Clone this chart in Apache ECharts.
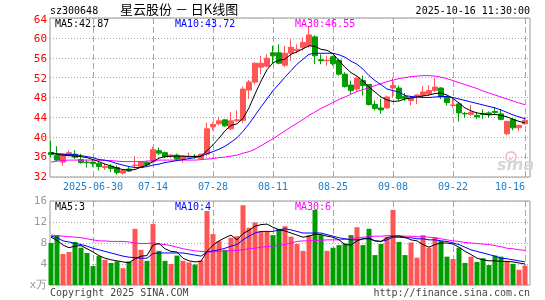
<!DOCTYPE html>
<html>
<head>
<meta charset="utf-8">
<script src="https://cdn.jsdelivr.net/npm/echarts@6/dist/echarts.min.js"></script>
<style>
html,body{margin:0;padding:0;background:#fff;}
#chart{width:545px;height:300px;}
</style>
</head>
<body>
<div id="chart"></div>
<script>
// trading days shown
var dates = [
	'2025-06-19','2025-06-20','2025-06-23','2025-06-24','2025-06-25','2025-06-26','2025-06-27','2025-06-30',
	'2025-07-01','2025-07-02','2025-07-03','2025-07-04','2025-07-07','2025-07-08','2025-07-09','2025-07-10','2025-07-11',
	'2025-07-14','2025-07-15','2025-07-16','2025-07-17','2025-07-18','2025-07-21','2025-07-22','2025-07-23','2025-07-24','2025-07-25',
	'2025-07-28','2025-07-29','2025-07-30','2025-07-31','2025-08-01','2025-08-04','2025-08-05','2025-08-06','2025-08-07','2025-08-08',
	'2025-08-11','2025-08-12','2025-08-13','2025-08-14','2025-08-15','2025-08-18','2025-08-19','2025-08-20','2025-08-21','2025-08-22',
	'2025-08-25','2025-08-26','2025-08-27','2025-08-28','2025-08-29','2025-09-01','2025-09-02','2025-09-03','2025-09-04','2025-09-05',
	'2025-09-08','2025-09-09','2025-09-10','2025-09-11','2025-09-12','2025-09-15','2025-09-16','2025-09-17','2025-09-18','2025-09-19',
	'2025-09-22','2025-09-23','2025-09-24','2025-09-25','2025-09-26','2025-09-29','2025-09-30',
	'2025-10-09','2025-10-10','2025-10-13','2025-10-14','2025-10-15','2025-10-16'
];
var tickDates = ['2025-06-30','2025-07-14','2025-07-28','2025-08-11','2025-08-25','2025-09-08','2025-09-22','2025-10-16'];

var opens = [36.9,36.4,35.0,36.3,36.6,35.5,35.0,35.0,34.7,33.9, 34.2,33.9,32.8,33.6,34.3,33.9,34.9,35.1,37.3,36.9,
	36.1,36.4,35.6,36.0,36.2,35.7,36.6,42.1,42.7,43.5, 41.7,43.3,43.4,49.5,51.1,54.1,54.3,57.0,57.0,54.5,
	56.9,57.4,58.1,58.4,60.2,55.6,55.4,56.2,55.5,52.7, 50.5,49.7,51.4,50.6,46.6,45.9,45.9,49.9,49.9,48.2,
	47.4,48.3,48.4,48.7,49.4,49.9,48.1,46.4,46.7,44.8, 44.6,44.4,44.8,44.9,45.2,44.7,40.7,43.6,41.9,42.7];
var closes = [36.5,35.4,36.6,36.9,36.0,34.9,34.9,34.7,34.1,34.1, 33.7,32.9,33.3,33.2,34.4,35.1,34.5,37.5,36.8,36.1,
	36.4,35.6,36.2,36.2,36.1,36.6,41.7,42.6,43.3,42.3, 43.3,43.5,49.7,51.1,54.9,54.9,55.9,56.4,54.9,56.9,
	58.1,57.7,59.1,60.6,56.4,55.4,55.5,54.8,52.7,50.2, 49.4,51.9,50.4,46.6,45.8,45.5,48.1,50.4,47.8,47.8,
	48.0,48.5,49.1,49.4,50.1,48.1,47.0,46.5,44.9,44.7, 45.0,44.1,44.6,44.6,45.0,43.6,43.2,41.9,42.4,43.4];
var lows = [36.0,35.1,34.3,36.2,35.6,34.7,33.9,34.0,33.3,33.4, 33.0,32.5,32.5,33.0,33.7,33.8,34.2,34.9,36.4,35.8,
	35.8,35.4,34.9,35.8,35.7,35.5,36.2,41.4,42.4,42.1, 41.4,43.1,42.9,47.7,50.6,52.7,54.1,54.9,54.7,54.1,
	55.4,56.9,57.4,58.0,54.7,54.7,54.4,54.4,52.4,50.0, 48.7,49.1,48.4,46.4,45.4,44.7,45.7,48.0,47.4,47.3,
	46.4,46.7,48.1,48.4,49.1,47.7,46.4,45.9,43.2,43.9, 44.3,43.7,43.7,43.9,44.5,43.4,40.4,41.4,41.2,42.6];
var highs = [39.3,38.2,36.7,37.3,37.4,36.7,35.5,35.4,35.1,34.7, 34.6,34.3,33.6,34.0,36.2,35.2,35.2,38.1,37.9,37.1,
	36.6,36.7,36.4,36.9,36.6,36.7,42.9,43.0,44.1,43.6, 45.1,45.4,50.2,51.5,55.1,56.4,56.7,58.4,58.7,58.4,
	59.7,58.7,60.1,62.4,60.5,56.7,56.4,56.4,55.7,53.1, 51.4,52.2,52.4,50.7,47.4,47.7,48.4,51.9,50.4,48.9,
	48.3,48.7,50.3,50.5,51.9,50.1,48.4,47.7,46.9,45.1, 46.5,45.1,45.6,45.2,46.1,45.7,43.3,43.9,42.5,44.1];

var ma5 = [36.8,36.6,36.4,36.3,36.2,36.1,35.9,35.5,35.1,34.6, 34.2,33.8,33.5,33.4,33.5,34.0,34.4,35.1,35.8,36.1,
	36.2,36.2,36.2,36.1,36.1,36.2,37.3,38.5,39.8,41.3, 42.4,42.7,43.8,45.9,48.7,51.3,53.6,55.0,55.5,55.7,
	56.7,57.2,57.8,58.4,58.3,57.7,57.5,56.8,55.4,54.1, 53.0,52.3,51.3,50.1,49.1,48.1,47.5,47.2,47.3,47.7,
	47.9,48.1,48.3,48.5,48.8,48.9,48.5,47.8,46.9,45.9, 45.3,44.9,44.7,44.5,44.6,44.4,44.1,43.6,43.2,42.87];
var ma10 = [36.9,36.7,36.6,36.5,36.5,36.3,36.1,35.9,35.5,35.4, 35.1,34.7,34.4,34.1,33.9,33.9,34.1,34.4,34.6,34.9,
	35.1,35.3,35.5,35.7,35.9,36.2,36.7,37.1,37.6,38.2, 39.0,39.9,41.2,42.7,44.4,46.1,47.7,49.4,50.7,52.1,
	53.4,54.7,55.7,56.7,56.9,56.9,56.9,56.9,56.6,56.1, 55.3,54.7,53.7,52.4,51.4,50.6,49.7,49.4,49.1,48.4,
	48.2,48.1,48.0,48.0,48.1,48.2,48.2,48.0,47.7,47.4, 47.1,46.8,46.5,46.2,45.9,45.5,45.0,44.5,44.1,43.72];
var ma30 = [35.0,35.2,35.3,35.4,35.4,35.4,35.4,35.4,35.4,35.3, 35.3,35.2,35.1,35.1,35.1,35.1,35.2,35.3,35.4,35.4,
	35.4,35.4,35.4,35.4,35.4,35.5,35.6,35.7,35.9,36.0, 36.2,36.4,36.8,37.1,37.6,38.3,39.0,39.7,40.5,41.3,
	42.1,42.8,43.6,44.4,45.1,45.8,46.4,47.0,47.6,48.1, 48.7,49.2,49.6,50.0,50.4,50.8,51.2,51.5,51.8,52.0,
	52.2,52.3,52.4,52.4,52.3,52.1,51.8,51.4,51.0,50.6, 50.2,49.8,49.3,48.9,48.5,48.1,47.7,47.3,46.9,46.55];

// volume, x万
var vols = [8.0,9.5,5.9,6.3,8.2,7.1,6.1,3.6,5.5,4.8, 4.2,4.5,3.2,4.5,10.7,6.7,4.6,11.6,6.5,4.6,
	4.0,5.6,4.6,4.3,3.9,4.7,14.1,9.7,8.4,6.7, 9.0,9.3,15.2,10.9,11.9,10.3,10.3,9.5,10.7,11.2,
	9.2,7.8,6.5,9.5,14.3,9.5,6.5,7.1,7.6,7.9, 9.5,11.0,7.6,10.7,5.7,7.8,9.2,14.3,8.2,5.7,
	8.1,5.2,9.5,7.1,9.1,8.4,5.4,4.95,7.1,4.2, 5.4,4.4,5.1,3.8,5.6,5.4,4.4,4.0,2.9,3.7];
var vma5 = [9.1,8.5,7.6,7.1,7.4,7.5,6.9,6.3,5.6,5.1, 4.8,4.6,4.4,4.2,5.0,5.5,5.6,7.6,7.9,6.9,
	6.4,6.3,5.1,4.6,4.4,4.5,6.4,7.6,8.4,9.0, 9.5,8.6,9.8,10.4,11.2,11.5,11.6,11.0,10.5,10.3,
	9.9,9.5,9.1,9.3,9.7,9.6,9.3,9.1,8.6,7.7, 7.6,8.4,8.8,8.8,8.4,8.3,9.0,9.3,9.3,9.1,
	8.6,8.4,7.7,7.2,7.7,8.0,8.0,7.8,7.2,6.4, 5.8,5.1,4.8,4.6,4.6,4.5,4.5,4.4,4.2,4.0];
var vma10 = [9.3,9.0,8.4,8.2,7.9,7.7,7.4,7.0,6.7,6.4, 6.1,5.8,5.5,5.3,5.2,5.1,5.1,6.0,6.1,6.1,
	6.1,6.1,6.1,5.9,5.7,5.5,6.3,6.5,6.7,7.0, 7.4,7.7,8.6,9.3,9.9,10.2,10.2,10.2,10.5,10.7,
	10.5,10.2,9.9,9.9,9.9,9.9,9.6,9.3,9.0,8.8, 8.6,8.6,8.8,9.0,8.4,8.3,8.6,9.1,9.1,9.0,
	9.0,8.8,8.8,8.6,8.6,8.4,8.3,8.0,7.7,7.2, 6.7,6.4,6.1,5.8,5.5,5.1,5.0,4.8,4.6,4.4];
var vma30 = [9.5,9.4,9.3,9.2,9.1,9.0,8.8,8.6,8.4,8.4, 8.3,8.3,8.3,8.2,8.0,7.9,7.9,8.0,7.8,7.7,
	7.5,7.2,6.9,6.7,6.5,6.4,6.3,6.3,6.4,6.5, 6.5,6.6,6.7,6.9,7.0,7.2,7.3,7.4,7.6,7.7,
	8.0,8.3,8.4,8.4,8.5,8.5,8.6,8.6,8.6,8.7, 8.8,9.0,9.1,9.2,9.3,9.3,9.4,9.4,9.4,9.3,
	9.3,9.2,9.2,9.1,9.0,8.8,8.6,8.4,8.3,8.1, 8.0,7.9,7.8,7.7,7.5,7.3,7.0,6.9,6.7,6.6];

var UP = '#ff5555', DOWN = '#009c00';
var MONO = '"DejaVu Sans Mono", monospace';
var GRIDC = '#a8a8a8';

var chart = echarts.init(document.getElementById('chart'));

var isTick = function(i){ return tickDates.indexOf(dates[i]) >= 0; };

var candle = [];
var volData = [];
for (var i = 0; i < dates.length; i++) {
	candle.push([opens[i], closes[i], lows[i], highs[i]]);
	volData.push({ value: vols[i], itemStyle: { color: closes[i] >= opens[i] ? UP : DOWN } });
}

var txt = function(x, y, s, color, opt){
	opt = opt || {};
	return {
		type: 'text', x: x, y: y, z: 10,
		style: {
			text: s, fill: color,
			font: opt.font || ('10px ' + MONO),
			align: opt.align || 'left', verticalAlign: 'middle'
		}
	};
};

var vDash = { show: true, interval: function(i){ return isTick(i); }, lineStyle: { color: GRIDC, width: 1, type: [6, 3] } };
var hDot = { show: true, lineStyle: { color: GRIDC, width: 1, type: [1, 2] } };

var option = {
	animation: false,
	backgroundColor: '#fff',
	grid: [
		{ left: 51, right: 20, top: 18, height: 159 },
		{ left: 51, right: 20, top: 201, height: 84 },
		{ left: 50, right: 15, top: 18, height: 159, show: true, borderColor: '#999', borderWidth: 1, backgroundColor: 'transparent' },
		{ left: 50, right: 15, top: 201, height: 84, show: true, borderColor: '#999', borderWidth: 1, backgroundColor: 'transparent' },
		// label-only grid: same 5px-per-yuan scale, one step taller, so 64 is not the end tick
		{ left: 50, right: 15, top: -2, height: 179 }
	],
	xAxis: [
		{
			type: 'category', gridIndex: 0, data: dates, boundaryGap: false,
			axisLine: { show: false }, axisTick: { show: false },
			axisLabel: {
				interval: function(i){ return isTick(i); },
				formatter: function(v, i){ return v === tickDates[0] ? v : v.slice(5); },
				color: '#1a7fd0', fontFamily: MONO, fontSize: 10, margin: 5,
				alignMaxLabel: 'right'
			},
			splitLine: vDash
		},
		{
			type: 'category', gridIndex: 1, data: dates, boundaryGap: false,
			axisLine: { show: false }, axisTick: { show: false }, axisLabel: { show: false },
			splitLine: vDash
		},
		{ type: 'value', gridIndex: 2, show: false },
		{ type: 'value', gridIndex: 3, show: false },
		{ type: 'value', gridIndex: 4, show: false }
	],
	yAxis: [
		{ type: 'value', gridIndex: 0, min: 32, max: 64, show: false },
		{ type: 'value', gridIndex: 1, min: 0, max: 16, show: false },
		{
			type: 'value', gridIndex: 2, min: 32, max: 64, interval: 4,
			axisLine: { show: false }, axisTick: { show: false }, axisLabel: { show: false },
			splitLine: hDot
		},
		{
			type: 'value', gridIndex: 3, min: 0, max: 16, interval: 4,
			axisLine: { show: false }, axisTick: { show: false },
			axisLabel: {
				color: '#999', fontFamily: MONO, fontSize: 11, margin: 3, showMinLabel: true, showMaxLabel: true,
				formatter: function(v){ return v === 0 ? 'x万' : v; }
			},
			splitLine: hDot
		},
		{
			type: 'value', gridIndex: 4, min: 32, max: 68, interval: 4,
			axisLine: { show: false }, axisTick: { show: false }, splitLine: { show: false },
			axisLabel: {
				color: '#f00', fontFamily: MONO, fontSize: 11, margin: 3, showMinLabel: true, showMaxLabel: false,
				formatter: function(v){ return v > 64 ? '' : v; }
			}
		}
	],
	series: [
		{
			type: 'candlestick', xAxisIndex: 0, yAxisIndex: 0, data: candle, barWidth: 5, clip: false,
			itemStyle: { color: UP, color0: DOWN, borderColor: UP, borderColor0: DOWN, borderWidth: 1 }
		},
		{ type: 'line', xAxisIndex: 0, yAxisIndex: 0, data: ma30, symbol: 'none', lineStyle: { color: '#ff00ff', width: 1 } },
		{ type: 'line', xAxisIndex: 0, yAxisIndex: 0, data: ma10, symbol: 'none', lineStyle: { color: '#0000ff', width: 1 } },
		{ type: 'line', xAxisIndex: 0, yAxisIndex: 0, data: ma5, symbol: 'none', lineStyle: { color: '#000', width: 1 } },
		{ type: 'bar', xAxisIndex: 1, yAxisIndex: 1, data: volData, barWidth: 5, clip: false },
		{ type: 'line', xAxisIndex: 1, yAxisIndex: 1, data: vma30, symbol: 'none', lineStyle: { color: '#ff00ff', width: 1 } },
		{ type: 'line', xAxisIndex: 1, yAxisIndex: 1, data: vma10, symbol: 'none', lineStyle: { color: '#0000ff', width: 1 } },
		{ type: 'line', xAxisIndex: 1, yAxisIndex: 1, data: vma5, symbol: 'none', lineStyle: { color: '#000', width: 1 } }
	],
	graphic: [
		txt(50, 11, 'sz300648', '#000'),
		txt(120, 9, '星云股份 － 日K线图', '#000', { font: '13px "Noto Sans CJK SC"' }),
		txt(530, 11, '2025-10-16 11:30:00', '#000', { align: 'right' }),
		txt(55, 24, 'MA5:42.87', '#000'),
		txt(175, 24, 'MA10:43.72', '#0000ff'),
		txt(295, 24, 'MA30:46.55', '#ff00ff'),
		txt(55, 207, 'MA5:3', '#000'),
		txt(175, 207, 'MA10:4', '#0000ff'),
		txt(295, 207, 'MA30:6', '#ff00ff'),
		txt(50, 293, 'Copyright 2025 SINA.COM', '#444'),
		txt(530, 293, 'http://finance.sina.com.cn', '#444', { align: 'right' }),
		{ type: 'circle', shape: { cx: 511, cy: 157, r: 5 }, z: 1, style: { fill: 'none', stroke: '#f0c4c4', lineWidth: 2 } },
		txt(497, 166, 'sina', '#d6d6d6', { font: 'italic bold 16px "DejaVu Sans"' })
	]
};

chart.setOption(option);
window.addEventListener('resize', function(){ chart.resize(); });
</script>
</body>
</html>
